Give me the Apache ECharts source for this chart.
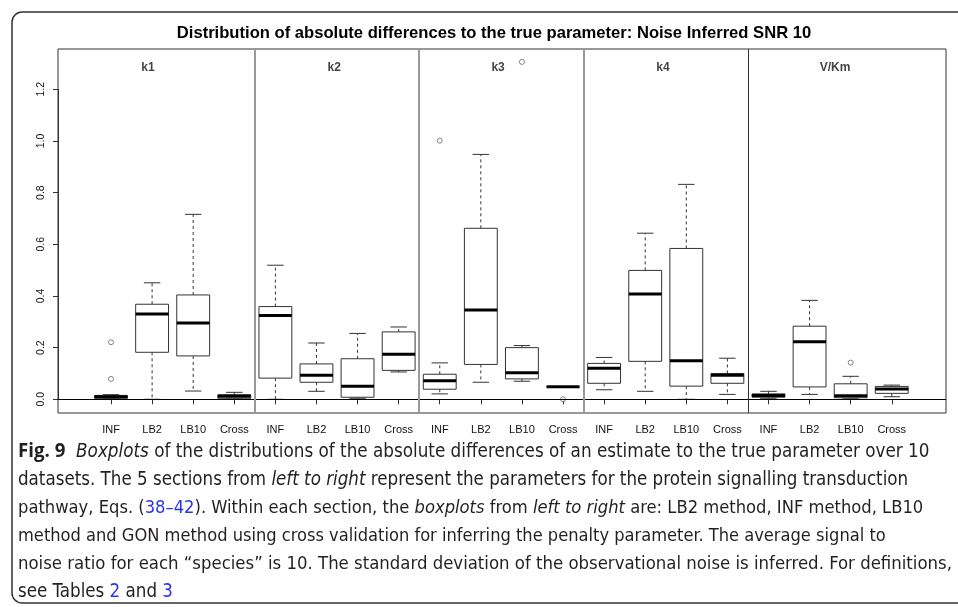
<!DOCTYPE html>
<html>
<head>
<meta charset="utf-8">
<script src="https://cdn.jsdelivr.net/npm/echarts@6.0.0/dist/echarts.min.js"></script>
<style>
html,body{margin:0;padding:0;background:#fff;}
#chart{width:958px;height:607px;}
</style>
</head>
<body>
<div id="chart"></div>
<script>
// ---------------- DATA ----------------
const methods = ['INF', 'LB2', 'LB10', 'Cross'];
const panels = ['k1', 'k2', 'k3', 'k4', 'V/Km'];
const yTicks = [0.0, 0.2, 0.4, 0.6, 0.8, 1.0, 1.2];
// each row: [lower whisker, Q1, median, Q3, upper whisker] for INF, LB2, LB10, Cross
const k1Stats = [
  [0.002, 0.004, 0.010, 0.015, 0.018],
  [0.000, 0.182, 0.330, 0.368, 0.451],
  [0.032, 0.168, 0.295, 0.404, 0.716],
  [0.001, 0.004, 0.012, 0.018, 0.027]
];
const k2Stats = [
  [0.000, 0.082, 0.324, 0.359, 0.519],
  [0.031, 0.066, 0.093, 0.137, 0.218],
  [0.004, 0.008, 0.051, 0.157, 0.255],
  [0.106, 0.112, 0.174, 0.261, 0.280]
];
const k3Stats = [
  [0.021, 0.039, 0.072, 0.097, 0.141],
  [0.066, 0.135, 0.346, 0.662, 0.948],
  [0.070, 0.079, 0.103, 0.200, 0.208],
  [0.049, 0.049, 0.049, 0.049, 0.049]
];
const k4Stats = [
  [0.037, 0.062, 0.120, 0.139, 0.162],
  [0.031, 0.147, 0.408, 0.499, 0.643],
  [0.000, 0.051, 0.149, 0.584, 0.832],
  [0.019, 0.062, 0.093, 0.100, 0.159]
];
const vkmStats = [
  [0.004, 0.008, 0.015, 0.021, 0.031],
  [0.019, 0.048, 0.223, 0.283, 0.383],
  [0.002, 0.006, 0.014, 0.060, 0.089],
  [0.010, 0.023, 0.040, 0.050, 0.055]
];
// outliers: [method index, value]
const k1Outliers = [[0, 0.221], [0, 0.079]];
const k2Outliers = [];
const k3Outliers = [[0, 1.001], [2, 1.306], [3, 0.000]];
const k4Outliers = [];
const vkmOutliers = [[2, 0.142]];

const chartTitle = 'Distribution of absolute differences to the true parameter: Noise Inferred SNR 10';

// ---------------- BUILD ----------------
const allStats = [k1Stats, k2Stats, k3Stats, k4Stats, vkmStats];
const allOutliers = [k1Outliers, k2Outliers, k3Outliers, k4Outliers, vkmOutliers];
const boxData = [];
const outlierData = [];
const tickLabels = [];
allStats.forEach((stats, p) => {
  stats.forEach((s, m) => {
    boxData.push([p * 4 + m + 1].concat(s));
    tickLabels.push(methods[m]);
  });
});
allOutliers.forEach((outs, p) => {
  outs.forEach(o => outlierData.push([p * 4 + o[0] + 1, o[1]]));
});
// layout of panel headings (x in box-position units)
const panelLabelX = [1.9, 6.43, 10.42, 14.43, 18.62];
const panelLabelY = 1.283;
const panelLabelData = panels.map((n, i) => [panelLabelX[i], panelLabelY, n]);
const dividers = [4.5, 8.5, 12.5, 16.5];

const FONT = '"Liberation Sans", Arial, sans-serif';
const CAP = '"Liberation Sans Narrow", "DejaVu Sans Condensed", "Liberation Sans", sans-serif';
const INK = '#333';

const chart = echarts.init(document.getElementById('chart'), null, {renderer: 'canvas'});

function renderBox(params, api) {
  const x = api.value(0);
  const c = v => api.coord([x, v]);
  const hw = api.size([0.8, 0])[0] / 2;
  const cw = hw / 2;
  const cx = c(0)[0];
  const yMin = c(api.value(1))[1];
  const yQ1 = c(api.value(2))[1];
  const yMed = c(api.value(3))[1];
  const yQ3 = c(api.value(4))[1];
  const yMax = c(api.value(5))[1];
  const dash = {stroke: INK, lineWidth: 1, lineDash: [3, 3]};
  const solid = {stroke: INK, lineWidth: 1};
  return {
    type: 'group',
    children: [
      {type: 'line', shape: {x1: cx, y1: yQ3, x2: cx, y2: yMax}, style: dash},
      {type: 'line', shape: {x1: cx, y1: yQ1, x2: cx, y2: yMin}, style: dash},
      {type: 'line', shape: {x1: cx - cw, y1: yMax, x2: cx + cw, y2: yMax}, style: solid},
      {type: 'line', shape: {x1: cx - cw, y1: yMin, x2: cx + cw, y2: yMin}, style: solid},
      {type: 'rect', shape: {x: cx - hw, y: yQ3, width: 2 * hw, height: yQ1 - yQ3}, style: {fill: '#fff', stroke: INK, lineWidth: 1}},
      {type: 'line', shape: {x1: cx - hw, y1: yMed, x2: cx + hw, y2: yMed}, style: {stroke: '#000', lineWidth: 3}}
    ]
  };
}

const captionLines = [
  '{b|Fig. 9}  {i|Boxplots} of the distributions of the absolute differences of an estimate to the true parameter over 10',
  'datasets. The 5 sections from {i|left to right} represent the parameters for the protein signalling transduction',
  'pathway, Eqs. ({a|38–42}). Within each section, the {i|boxplots} from {i|left to right} are: LB2 method, INF method, LB10',
  'method and GON method using cross validation for inferring the penalty parameter. The average signal to',
  'noise ratio for each “species” is 10. The standard deviation of the observational noise is inferred. For definitions,',
  'see Tables {a|2} and {a|3}'
];
// per-line font size (layout) so line lengths match the printed caption
const captionSizes = [18.7, 18.6, 18.2, 18.1, 18.4, 18.6];
function richFor(cs) {
  return {
    b: {fontFamily: '"Open Sans", sans-serif', fontWeight: 'bold', fontSize: cs, fill: '#231f20'},
    i: {fontFamily: CAP, fontStyle: 'italic', fontSize: cs, fill: '#231f20'},
    a: {fontFamily: CAP, fontSize: cs, fill: '#2b35e8'}
  };
}
const graphics = [
  {type: 'rect', shape: {x: 12, y: 12, width: 980, height: 591, r: 10}, style: {fill: 'none', stroke: '#333', lineWidth: 1.5}, silent: true},
  {type: 'text', x: 494, y: 33, style: {text: chartTitle, font: 'bold 16.6px ' + FONT, fill: '#000', textAlign: 'center', textVerticalAlign: 'middle'}}
];
captionLines.forEach((t, i) => {
  const cs = captionSizes[i];
  graphics.push({type: 'text', x: 18, y: 452 + i * 28, style: {text: t, rich: richFor(cs), fontFamily: CAP, fontSize: cs, fill: '#231f20', textAlign: 'left', textVerticalAlign: 'middle'}});
});

const option = {
  animation: false,
  backgroundColor: '#fff',
  grid: [
    {left: 58, right: 12, top: 49, bottom: 194, show: true, borderColor: INK, borderWidth: 1, backgroundColor: 'transparent'},
    {left: 90.45, right: 45.7, top: 89.3, bottom: 207.7, show: false}
  ],
  xAxis: [
    {gridIndex: 0, type: 'value', min: -0.29, max: 21.32, show: false},
    {gridIndex: 1, type: 'category', data: tickLabels, position: 'bottom', offset: 13.7,
      axisLine: {show: false},
      axisTick: {show: true, alignWithLabel: true, interval: 0, length: 5, lineStyle: {color: INK}},
      axisLabel: {interval: 0, margin: 11, fontFamily: FONT, fontSize: 11, color: '#111'}}
  ],
  yAxis: [
    {gridIndex: 0, type: 'value', min: -0.053, max: 1.356, show: false},
    {gridIndex: 1, type: 'value', min: yTicks[0], max: yTicks[yTicks.length - 1], interval: 0.2, position: 'left', offset: 32.45,
      axisLine: {show: true, lineStyle: {color: INK}},
      axisTick: {show: true, length: 5, lineStyle: {color: INK}},
      splitLine: {show: false},
      axisLabel: {rotate: 90, margin: 11, fontFamily: FONT, fontSize: 10.5, color: '#111', formatter: v => v.toFixed(1)}}
  ],
  graphic: graphics,
  series: [
    {
      type: 'custom', xAxisIndex: 0, yAxisIndex: 0, renderItem: renderBox, data: boxData, clip: false, silent: true,
      markLine: {
        silent: true, symbol: 'none', label: {show: false},
        data: [
          {yAxis: 0, lineStyle: {color: '#000', width: 1, type: 'solid'}}
        ].concat(dividers.map((d, i) => ({xAxis: d, lineStyle: i < 3 ? {color: '#9a9a9a', width: 2, type: 'solid'} : {color: '#333', width: 1, type: 'solid'}})))
      }
    },
    {
      type: 'scatter', xAxisIndex: 0, yAxisIndex: 0, data: outlierData, symbol: 'circle', symbolSize: 5,
      itemStyle: {color: '#fff', borderColor: '#444', borderWidth: 0.8}, silent: true
    },
    {
      type: 'scatter', xAxisIndex: 0, yAxisIndex: 0, data: panelLabelData, symbolSize: 0, silent: true,
      label: {show: true, position: 'inside', formatter: p => p.data[2], fontFamily: FONT, fontWeight: 'bold', fontSize: 12, color: '#111'}
    }
  ]
};
chart.setOption(option);
</script>
</body>
</html>
